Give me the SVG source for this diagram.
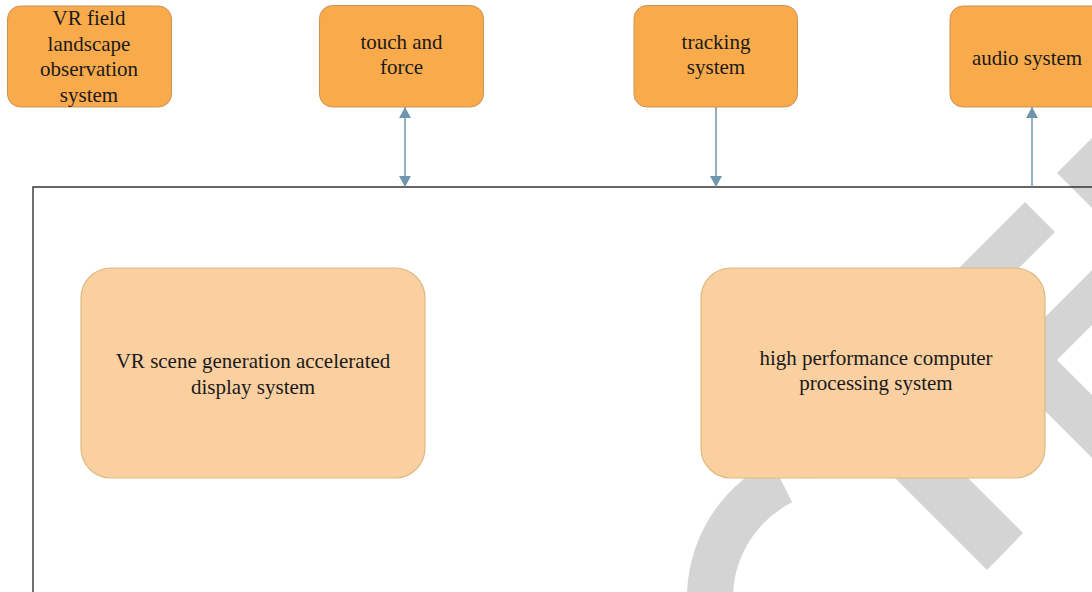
<svg xmlns="http://www.w3.org/2000/svg" width="1092" height="592" viewBox="0 0 1092 592">
  <defs>
    <style>
      .top { fill: #F9AB4C; stroke: #C99358; stroke-width: 1; }
      .sub { fill: #FAD0A1; stroke: #DDBA82; stroke-width: 1.2; }
      .lbl { font-family: "Liberation Serif", "Times New Roman", serif; font-size: 21px; fill: #1a1a1a; text-anchor: middle; }
      .link { stroke: #7096AE; stroke-width: 1.5; fill: none; }
      .mark { fill: #D4D4D4; }
    </style>
    <marker id="arrow" viewBox="0 0 11 12" refX="11" refY="6" markerWidth="11" markerHeight="12" markerUnits="userSpaceOnUse" orient="auto-start-reverse">
      <path d="M0,0 L11,6 L0,12 Z" fill="#7096AE"/>
    </marker>
  </defs>

  <rect width="1092" height="592" fill="#ffffff"/>

  <!-- background mark shapes -->
  <g id="watermark">
    <polygon class="mark" points="1057,173 1092,138 1092,208"/>
    <polygon class="mark" points="1025,202 1055,232 808,479 778,449"/>
    <polygon class="mark" points="1092,270 998,364 1092,458 1092,395 1057,360 1092,325"/>
    <polygon class="mark" points="857,440 930,440 1023,533 987,570"/>
    <path d="M781.86,481.72 A130,130 0 0 0 723,654.7" fill="none" stroke="#D4D4D4" stroke-width="46"/>
  </g>

  <!-- enclosing frame -->
  <path id="frame" d="M33,592 V187 H1092" fill="none" stroke="#333333" stroke-width="1.4"/>

  <g id="connectors">
    <line class="link" x1="405" y1="107" x2="405" y2="187" marker-start="url(#arrow)" marker-end="url(#arrow)"/>
    <line class="link" x1="716" y1="107" x2="716" y2="187" marker-end="url(#arrow)"/>
    <line class="link" x1="1032" y1="187" x2="1032" y2="107" marker-end="url(#arrow)"/>
  </g>

  <g id="vr-field">
    <rect class="top" x="7.5" y="6" width="164" height="101" rx="13"/>
    <text class="lbl" x="89" y="25">VR field</text>
    <text class="lbl" x="89" y="51">landscape</text>
    <text class="lbl" x="89" y="76">observation</text>
    <text class="lbl" x="89" y="102">system</text>
  </g>

  <g id="touch-force">
    <rect class="top" x="319.5" y="5.5" width="164" height="101.5" rx="13"/>
    <text class="lbl" x="401.5" y="49">touch and</text>
    <text class="lbl" x="401.5" y="74">force</text>
  </g>

  <g id="tracking">
    <rect class="top" x="634" y="5.5" width="163.5" height="101.5" rx="13"/>
    <text class="lbl" x="716" y="49">tracking</text>
    <text class="lbl" x="716" y="74">system</text>
  </g>

  <g id="audio">
    <rect class="top" x="950" y="6" width="164" height="101" rx="13"/>
    <text class="lbl" x="1027" y="65">audio system</text>
  </g>

  <g id="scene-display">
    <rect class="sub" x="81" y="268" width="344" height="210" rx="30"/>
    <text class="lbl" x="253" y="368">VR scene generation accelerated</text>
    <text class="lbl" x="253" y="394">display system</text>
  </g>

  <g id="hpc">
    <rect class="sub" x="701" y="268" width="344" height="210" rx="30"/>
    <text class="lbl" x="876" y="365">high performance computer</text>
    <text class="lbl" x="876" y="390">processing system</text>
  </g>
</svg>
